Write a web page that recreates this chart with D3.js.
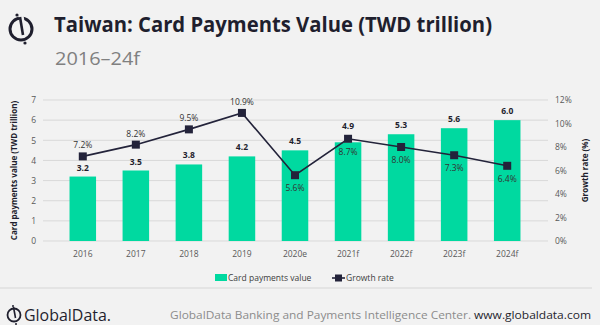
<!DOCTYPE html>
<html>
<head>
<meta charset="utf-8">
<script src="https://cdn.jsdelivr.net/npm/d3@7"></script>
<style>
  body { margin: 0; background: #f2f2f2; }
  svg { display: block; font-family: "Open Sans", "Noto Sans", sans-serif; }
</style>
</head>
<body>
<div id="chart"></div>
<script>
var years = ["2016", "2017", "2018", "2019", "2020e", "2021f", "2022f", "2023f", "2024f"];
var cardValues = [3.2, 3.5, 3.8, 4.2, 4.5, 4.9, 5.3, 5.6, 6.0];
var growthRates = [7.2, 8.2, 9.5, 10.9, 5.6, 8.7, 8.0, 7.3, 6.4];
var leftTicks = [0, 1, 2, 3, 4, 5, 6, 7];
var rightTicks = [0, 2, 4, 6, 8, 10, 12];

var W = 600, H = 325;
var plot = {left: 43, right: 547, top: 100, bottom: 241};

var svg = d3.select("#chart").append("svg")
  .attr("width", W)
  .attr("height", H);

svg.append("rect").attr("width", W).attr("height", H).attr("fill", "#f2f2f2");

/* header logo: circle with a slash */
var logo = svg.append("g").attr("transform", "translate(21,29)");
logo.append("circle").attr("r", 11).attr("fill", "none")
  .attr("stroke", "#1f1f2e").attr("stroke-width", 3);
logo.append("line").attr("x1", 0).attr("y1", -14).attr("x2", 3).attr("y2", 6)
  .attr("stroke", "#f2f2f2").attr("stroke-width", 5);
logo.append("line").attr("x1", -1).attr("y1", -12).attr("x2", 2).attr("y2", 6)
  .attr("stroke", "#1f1f2e").attr("stroke-width", 2.6);
logo.append("circle").attr("cx", 4).attr("cy", 14).attr("r", 1.6).attr("fill", "#1f1f2e");
logo.append("circle").attr("cx", -4).attr("cy", -14).attr("r", 1.6).attr("fill", "#1f1f2e");

svg.append("text")
  .attr("x", 54).attr("y", 32)
  .attr("font-size", 22).attr("font-weight", 700).attr("fill", "#1f1f2e")
  .attr("textLength", 438).attr("lengthAdjust", "spacingAndGlyphs")
  .text("Taiwan: Card Payments Value (TWD trillion)");

svg.append("text")
  .attr("x", 55).attr("y", 65)
  .attr("font-size", 19).attr("fill", "#808080")
  .attr("textLength", 85).attr("lengthAdjust", "spacingAndGlyphs")
  .text("2016\u201324f");

var x = d3.scaleBand().domain(years).range([plot.left, plot.right]).padding(0.5);
var y = d3.scaleLinear().domain([0, 7]).range([plot.bottom, plot.top]);
var y2 = d3.scaleLinear().domain([0, 12]).range([plot.bottom, plot.top]);

/* gridlines */
svg.append("g").selectAll("line").data(leftTicks).join("line")
  .attr("x1", plot.left).attr("x2", plot.right + 1)
  .attr("y1", function(d) { return y(d); })
  .attr("y2", function(d) { return y(d); })
  .attr("stroke", "#d9d9d9").attr("stroke-width", 1);

var yAxis = d3.axisLeft(y).tickValues(leftTicks).tickSize(0).tickPadding(0)
  .tickFormat(d3.format("d"));
var gY = svg.append("g").attr("transform", "translate(36,0)").call(yAxis);
var yAxis2 = d3.axisRight(y2).tickValues(rightTicks).tickSize(0).tickPadding(0)
  .tickFormat(function(d) { return d + "%"; });
var gY2 = svg.append("g").attr("transform", "translate(555,0)").call(yAxis2);
var xAxis = d3.axisBottom(x).tickSize(0).tickPadding(0);
var gX = svg.append("g").attr("transform", "translate(0," + (plot.bottom + 13) + ")").call(xAxis);

[gY, gY2, gX].forEach(function(g) {
  g.select(".domain").remove();
  g.selectAll("text").attr("font-size", 8.5).attr("fill", "#595959")
    .attr("font-family", "\"Open Sans\", sans-serif");
});
gX.selectAll("text").attr("dy", "0.35em");

svg.append("text")
  .attr("transform", "translate(17," + ((plot.top + plot.bottom) / 2) + ") rotate(-90)")
  .attr("text-anchor", "middle").attr("font-size", 8).attr("font-weight", 700).attr("fill", "#1f1f2e")
  .text("Card payments value (TWD trillion)");

svg.append("text")
  .attr("transform", "translate(588," + ((plot.top + plot.bottom) / 2) + ") rotate(-90)")
  .attr("text-anchor", "middle").attr("font-size", 8).attr("font-weight", 700).attr("fill", "#1f1f2e")
  .text("Growth rate (%)");

/* bars */
svg.append("g").selectAll("rect").data(years).join("rect")
  .attr("x", function(d) { return x(d); })
  .attr("width", x.bandwidth())
  .attr("y", function(d, i) { return y(cardValues[i]); })
  .attr("height", function(d, i) { return plot.bottom - y(cardValues[i]); })
  .attr("fill", "#00d9a0");

/* bar labels sit above the bar, or above the marker if it sits on the bar top */
function barLabelY(i) {
  var top = y(cardValues[i]), my = y2(growthRates[i]);
  if (Math.abs(my - top) < 10) return Math.min(top, my) - 10;
  return top - 6;
}

svg.append("g").selectAll("text").data(years).join("text")
  .attr("x", function(d) { return x(d) + x.bandwidth() / 2; })
  .attr("y", function(d, i) { return barLabelY(i); })
  .attr("text-anchor", "middle").attr("font-size", 8.5).attr("font-weight", 700).attr("fill", "#1f1f2e")
  .text(function(d, i) { return cardValues[i].toFixed(1); });

/* growth line */
var cx = function(d, i) { return x(years[i]) + x.bandwidth() / 2; };
var line = d3.line()
  .x(cx)
  .y(function(d) { return y2(d); });

svg.append("path").datum(growthRates)
  .attr("d", line).attr("fill", "none")
  .attr("stroke", "#23233a").attr("stroke-width", 1.6);

svg.append("g").selectAll("rect").data(growthRates).join("rect")
  .attr("x", function(d, i) { return cx(d, i) - 4; })
  .attr("y", function(d) { return y2(d) - 4; })
  .attr("width", 8).attr("height", 8)
  .attr("fill", "#23233a");

svg.append("g").selectAll("text").data(growthRates).join("text")
  .attr("x", cx)
  .attr("y", function(d, i) { return i < 4 ? y2(d) - 8 : y2(d) + 16; })
  .attr("text-anchor", "middle").attr("font-size", 8.5).attr("fill", "#333333")
  .text(function(d) { return d.toFixed(1) + "%"; });

/* legend */
var legend = svg.append("g").attr("transform", "translate(0,278)");
legend.append("rect").attr("x", 215).attr("y", -4).attr("width", 12).attr("height", 7).attr("fill", "#00d9a0");
legend.append("text").attr("x", 228).attr("y", 0).attr("dy", "0.35em")
  .attr("font-size", 8.5).attr("fill", "#404040").text("Card payments value");
legend.append("line").attr("x1", 332).attr("x2", 345).attr("y1", 0).attr("y2", 0)
  .attr("stroke", "#23233a").attr("stroke-width", 1.6);
legend.append("rect").attr("x", 335).attr("y", -3.5).attr("width", 7).attr("height", 7).attr("fill", "#23233a");
legend.append("text").attr("x", 346).attr("y", 0).attr("dy", "0.35em")
  .attr("font-size", 8.5).attr("fill", "#404040").text("Growth rate");

/* footer */
svg.append("line").attr("x1", 0).attr("x2", 592).attr("y1", 288).attr("y2", 288)
  .attr("stroke", "#d6d6d6").attr("stroke-width", 1);

var flogo = svg.append("g").attr("transform", "translate(14,315)");
flogo.append("circle").attr("r", 6.5).attr("fill", "none").attr("stroke", "#1f1f2e").attr("stroke-width", 1.8);
flogo.append("line").attr("x1", -0.5).attr("y1", -8).attr("x2", 1.5).attr("y2", 3)
  .attr("stroke", "#1f1f2e").attr("stroke-width", 1.6);
flogo.append("circle").attr("cx", -1).attr("cy", -9).attr("r", 1).attr("fill", "#1f1f2e");
flogo.append("circle").attr("cx", 2).attr("cy", 9).attr("r", 1).attr("fill", "#1f1f2e");

svg.append("text").attr("x", 24).attr("y", 321)
  .attr("font-size", 16).attr("fill", "#1f1f2e")
  .attr("textLength", 87).attr("lengthAdjust", "spacingAndGlyphs")
  .text("GlobalData.");

svg.append("text").attr("x", 170).attr("y", 319)
  .attr("font-size", 11).attr("fill", "#8c8c8c")
  .attr("textLength", 301).attr("lengthAdjust", "spacingAndGlyphs")
  .text("GlobalData Banking and Payments Intelligence Center.");

svg.append("text").attr("x", 474).attr("y", 319)
  .attr("font-size", 11).attr("fill", "#1f1f2e")
  .attr("textLength", 117).attr("lengthAdjust", "spacingAndGlyphs")
  .text("www.globaldata.com");
</script>
</body>
</html>
